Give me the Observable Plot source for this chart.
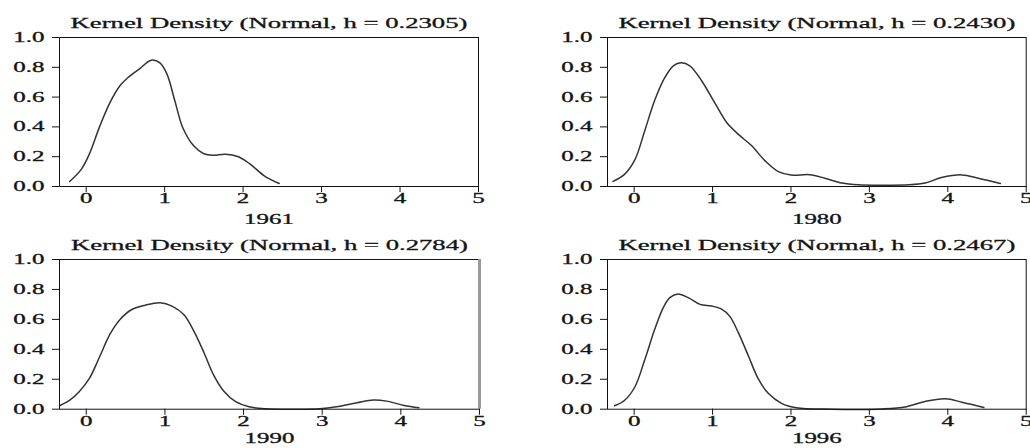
<!DOCTYPE html>
<html>
<head>
<meta charset="utf-8">
<script src="https://cdn.jsdelivr.net/npm/d3@7"></script>
<script src="https://cdn.jsdelivr.net/npm/@observablehq/plot@0.6"></script>
<style>
  html, body { margin: 0; padding: 0; background: #fff; }
  #wrap { position: relative; width: 1030px; height: 448px; overflow: hidden; background: #fff; }
  #wrap svg { position: absolute; }
</style>
</head>
<body>
<div id="wrap"></div>
<script>
// ---- data ----
const years = ["1961", "1980", "1990", "1996"];
const bandwidths = ["0.2305", "0.2430", "0.2784", "0.2467"];
const xTicks = [0, 1, 2, 3, 4, 5];
const yTicks = [0, 0.2, 0.4, 0.6, 0.8, 1.0];

const x1961 = [-0.21, -0.06, 0.04, 0.17, 0.30, 0.43, 0.53, 0.68, 0.83, 0.94, 1.03, 1.13, 1.23, 1.37, 1.50, 1.62, 1.77, 1.94, 2.09, 2.27, 2.46];
const y1961 = [0.034, 0.117, 0.217, 0.40, 0.56, 0.676, 0.73, 0.79, 0.848, 0.83, 0.754, 0.575, 0.396, 0.273, 0.22, 0.21, 0.217, 0.20, 0.15, 0.072, 0.02];

const x1980 = [-0.27, -0.12, 0.01, 0.135, 0.26, 0.39, 0.50, 0.60, 0.71, 0.86, 1.03, 1.18, 1.33, 1.50, 1.67, 1.84, 2.00, 2.24, 2.43, 2.65, 2.86, 3.16, 3.50, 3.71, 3.92, 4.18, 4.39, 4.67];
const y1980 = [0.034, 0.083, 0.18, 0.374, 0.575, 0.73, 0.81, 0.83, 0.81, 0.71, 0.56, 0.43, 0.35, 0.273, 0.172, 0.10, 0.077, 0.079, 0.056, 0.023, 0.011, 0.009, 0.011, 0.023, 0.06, 0.078, 0.056, 0.02];

const x1990 = [-0.34, -0.21, -0.09, 0.04, 0.17, 0.30, 0.43, 0.58, 0.75, 0.94, 1.09, 1.24, 1.37, 1.50, 1.62, 1.75, 1.90, 2.07, 2.29, 2.63, 2.97, 3.18, 3.44, 3.65, 3.82, 4.04, 4.23];
const y1990 = [0.023, 0.06, 0.117, 0.206, 0.35, 0.50, 0.60, 0.666, 0.695, 0.711, 0.689, 0.632, 0.52, 0.374, 0.228, 0.12, 0.05, 0.016, 0.003, 0.0, 0.003, 0.016, 0.043, 0.062, 0.054, 0.025, 0.01];

const x1996 = [-0.25, -0.12, 0.01, 0.135, 0.26, 0.37, 0.455, 0.56, 0.69, 0.84, 0.99, 1.11, 1.22, 1.33, 1.46, 1.58, 1.71, 1.88, 2.07, 2.52, 3.16, 3.46, 3.71, 3.97, 4.18, 4.46];
const y1996 = [0.023, 0.06, 0.15, 0.33, 0.53, 0.677, 0.745, 0.77, 0.745, 0.70, 0.689, 0.67, 0.62, 0.51, 0.352, 0.206, 0.106, 0.039, 0.009, 0.0, 0.002, 0.015, 0.052, 0.07, 0.047, 0.011];

const xs = [x1961, x1980, x1990, x1996];
const ys = [y1961, y1980, y1990, y1996];

// ---- layout ----
const layout = [
  {left: 0,   top: 0,   w: 515, ml: 59, mr: 37,  mt: 37, mb: 38,   yd: 33},
  {left: 515, top: 0,   w: 515, ml: 92, mr: 4.3, mt: 37, mb: 38,   yd: 33},
  {left: 0,   top: 224, w: 515, ml: 59, mr: 36,  mt: 35, mb: 39.3, yd: 29},
  {left: 515, top: 224, w: 515, ml: 92, mr: 4.3, mt: 35, mb: 39.3, yd: 29}
];

const STRETCH = 1.78;
const wrap = document.getElementById("wrap");

years.forEach((year, i) => {
  const pos = layout[i];
  const data = xs[i].map((x, j) => ({x, y: ys[i][j]}));
  const title = `Kernel Density (Normal, h = ${bandwidths[i]})`;
  const marks = [
    Plot.axisX({ticks: xTicks, tickSize: 6, tickPadding: 1, tickFormat: d3.format("d"), label: null, fontSize: 14}),
    Plot.axisY({ticks: yTicks, tickSize: 7, tickPadding: 8, tickFormat: d3.format(".1f"), label: null, fontSize: 14}),
    Plot.lineY(data, {x: "x", y: "y", stroke: "#333", strokeWidth: 1.5, curve: "catmull-rom"}),
    Plot.frame({stroke: "#111", strokeWidth: 1}),
    Plot.text([title], {text: d => d, frameAnchor: "top", dy: -10, lineAnchor: "bottom", fontSize: 15}),
    Plot.text([year], {text: d => d, frameAnchor: "bottom", dy: pos.yd, lineAnchor: "middle", fontSize: 14})
  ];
  if (i === 2) marks.push(Plot.ruleX([5], {stroke: "#9a9a9a", strokeWidth: 3}));
  const svg = Plot.plot({
    width: pos.w, height: 224,
    marginLeft: pos.ml, marginRight: pos.mr, marginTop: pos.mt, marginBottom: pos.mb,
    x: {domain: [-0.34, 5]},
    y: {domain: [0, 1]},
    style: {fontFamily: "'Liberation Serif', 'Times New Roman', serif", fontSize: "14px", color: "#141414", background: "white", overflow: "visible"},
    marks
  });
  svg.style.left = pos.left + "px";
  svg.style.top = pos.top + "px";
  wrap.appendChild(svg);
  svg.querySelectorAll("text").forEach(t => {
    const len = t.getComputedTextLength();
    if (len > 0) {
      t.setAttribute("textLength", (len * STRETCH).toFixed(1));
      t.setAttribute("lengthAdjust", "spacingAndGlyphs");
      t.setAttribute("stroke", "#141414");
      t.setAttribute("stroke-width", "0.3");
    }
  });
});
</script>
</body>
</html>
